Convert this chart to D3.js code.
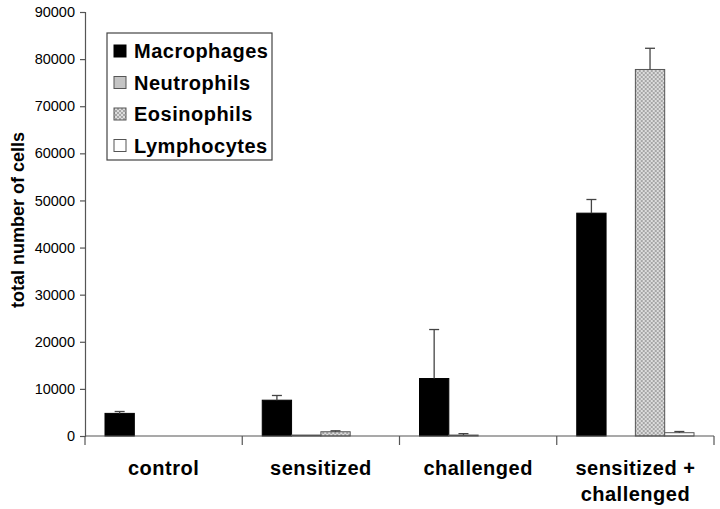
<!DOCTYPE html>
<html>
<head>
<meta charset="utf-8">
<script src="https://cdn.jsdelivr.net/npm/d3@7"></script>
<style>
  body { margin: 0; background: #fff; }
  svg { display: block; font-family: "Liberation Sans", Arial, sans-serif; }
</style>
</head>
<body>
<div id="chart"></div>
<script>
// groups along the x axis (second line after "|")
const categories = ["control", "sensitized", "challenged", "sensitized +|challenged"];
const cellTypes = ["Macrophages", "Neutrophils", "Eosinophils", "Lymphocytes"];

// mean values per cell type, one entry per category
const macrophages = [4800, 7600, 12200, 47300];
const neutrophils = [0, 200, 200, 0];
const eosinophils = [0, 900, 0, 77800];
const lymphocytes = [0, 0, 0, 700];

// error (upper SD) per cell type
const macrophagesErr = [400, 1000, 10400, 2900];
const neutrophilsErr = [0, 0, 300, 0];
const eosinophilsErr = [0, 200, 0, 4500];
const lymphocytesErr = [0, 0, 0, 250];

const yTicks = [0, 10000, 20000, 30000, 40000, 50000, 60000, 70000, 80000, 90000];

const series = [
  { name: cellTypes[0], values: macrophages, err: macrophagesErr },
  { name: cellTypes[1], values: neutrophils, err: neutrophilsErr },
  { name: cellTypes[2], values: eosinophils, err: eosinophilsErr },
  { name: cellTypes[3], values: lymphocytes, err: lymphocytesErr }
];

const width = 720, height = 509;
const margin = { left: 85, right: 6, top: 12, bottom: 73 };

const svg = d3.select("#chart").append("svg")
  .attr("width", width)
  .attr("height", height);

// checkered fill for eosinophils
const defs = svg.append("defs");
const pat = defs.append("pattern")
  .attr("id", "dots")
  .attr("width", 4).attr("height", 4)
  .attr("patternUnits", "userSpaceOnUse");
pat.append("rect").attr("width", 4).attr("height", 4).attr("fill", "#dcdcdc");
pat.append("rect").attr("width", 2).attr("height", 2).attr("fill", "#a6a6a6");
pat.append("rect").attr("x", 2).attr("y", 2).attr("width", 2).attr("height", 2).attr("fill", "#a6a6a6");

const fills = ["#000", "#c4c4c4", "url(#dots)", "#fff"];
const strokes = ["#000", "#555", "#555", "#555"];

const x0 = d3.scaleBand()
  .domain(categories)
  .range([margin.left, width - margin.right]);

const x1 = d3.scaleBand()
  .domain(cellTypes)
  .range([20, x0.bandwidth() - 20]);

const y = d3.scaleLinear()
  .domain([0, 90000])
  .range([height - margin.bottom, margin.top]);

// y axis
const yAxis = svg.append("g")
  .attr("transform", `translate(${margin.left},0)`)
  .call(d3.axisLeft(y).tickValues(yTicks).tickSize(5).tickPadding(5).tickFormat(d3.format("d")));
yAxis.selectAll("path, line").attr("stroke", "#555").attr("stroke-width", 1.2);
yAxis.selectAll("text").attr("font-size", 14.5).attr("fill", "#000")
  .attr("font-family", "Liberation Sans, Arial, sans-serif");

// bars
const groups = svg.append("g")
  .selectAll("g")
  .data(categories)
  .join("g")
  .attr("transform", d => `translate(${x0(d)},0)`);

series.forEach((s, si) => {
  groups.append("rect")
    .attr("x", x1(s.name))
    .attr("width", x1.bandwidth())
    .attr("y", (d, i) => y(s.values[i]))
    .attr("height", (d, i) => y(0) - y(s.values[i]))
    .attr("fill", fills[si])
    .attr("stroke", strokes[si])
    .attr("stroke-width", 1);

  // error bars
  const eb = groups.filter((d, i) => s.err[i] > 0).append("g")
    .attr("stroke", "#444").attr("stroke-width", 1.3);
  const top = d => y(s.values[categories.indexOf(d)] + s.err[categories.indexOf(d)]);
  const cx = x1(s.name) + x1.bandwidth() / 2;
  eb.append("line")
    .attr("x1", cx).attr("x2", cx)
    .attr("y1", d => y(s.values[categories.indexOf(d)]))
    .attr("y2", top);
  eb.append("line")
    .attr("x1", cx - 5).attr("x2", cx + 5)
    .attr("y1", top).attr("y2", top);
});

// x axis with ticks between categories
const xAxis = svg.append("g").attr("stroke", "#555").attr("stroke-width", 1.2);
xAxis.append("line")
  .attr("x1", margin.left).attr("x2", width - margin.right)
  .attr("y1", y(0)).attr("y2", y(0));
const edges = categories.map(c => x0(c)).concat([x0(categories[categories.length - 1]) + x0.bandwidth()]);
xAxis.selectAll(".tk")
  .data(edges)
  .join("line")
  .attr("x1", d => d).attr("x2", d => d)
  .attr("y1", y(0)).attr("y2", y(0) + 9);

// category labels
const labels = svg.append("g")
  .selectAll("text")
  .data(categories)
  .join("text")
  .attr("x", d => x0(d) + x0.bandwidth() / 2)
  .attr("y", 475)
  .attr("text-anchor", "middle")
  .attr("font-size", 20)
  .attr("letter-spacing", 0.5)
  .attr("font-weight", "bold");
labels.each(function (d) {
  d3.select(this).selectAll("tspan")
    .data(d.split("|"))
    .join("tspan")
    .attr("x", x0(d) + x0.bandwidth() / 2)
    .attr("dy", (t, i) => i === 0 ? 0 : 26)
    .text(t => t);
});

// y label
svg.append("text")
  .attr("transform", "translate(24,220) rotate(-90)")
  .attr("text-anchor", "middle")
  .attr("font-size", 18)
  .attr("font-weight", "bold")
  .text("total number of cells");

// legend
const legend = svg.append("g").attr("transform", "translate(107,33)");
legend.append("rect")
  .attr("width", 165).attr("height", 127)
  .attr("fill", "#fff").attr("stroke", "#444").attr("stroke-width", 1.2);
const item = legend.selectAll(".item")
  .data(cellTypes)
  .join("g")
  .attr("transform", (d, i) => `translate(0,${18 + i * 31.5})`);
item.append("rect")
  .attr("x", 7).attr("y", -6).attr("width", 12).attr("height", 12)
  .attr("fill", (d, i) => fills[i])
  .attr("stroke", (d, i) => strokes[i]);
item.append("text")
  .attr("x", 27).attr("y", 7)
  .attr("font-size", 20)
  .attr("letter-spacing", 0.5)
  .attr("font-weight", "bold")
  .text(d => d);
</script>
</body>
</html>
